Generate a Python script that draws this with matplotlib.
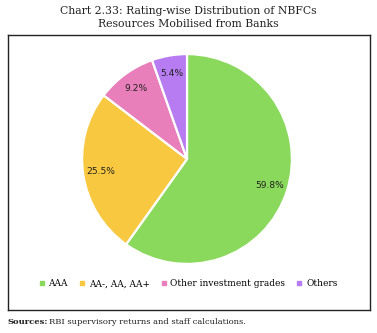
import matplotlib
matplotlib.use('Agg')
import matplotlib.pyplot as plt
from matplotlib.lines import Line2D

labels = ['AAA', 'AA-, AA, AA+', 'Other investment grades', 'Others']
shares = [59.8, 25.5, 9.2, 5.4]
colors = ['#8ad95c', '#f8c840', '#e97fba', '#b77cf1']

W, H = 377, 333
fig = plt.figure(figsize=(W / 100, H / 100), dpi=100)
fig.patch.set_facecolor('white')

def fx(px):
  return px / W

def fy(py):
  return 1 - py / H

# outer frame around chart area
frame = fig.add_axes([fx(8), fy(310), fx(370) - fx(8), fy(35) - fy(310)])
frame.set_xticks([])
frame.set_yticks([])
for s in frame.spines.values():
  s.set_linewidth(1.0)
  s.set_color('#222222')

fig.text(0.5, fy(11), 'Chart 2.33: Rating-wise Distribution of NBFCs',
         ha='center', va='center', family='DejaVu Serif', fontsize=7.8,
         color='#222222')
fig.text(0.5, fy(24), 'Resources Mobilised from Banks',
         ha='center', va='center', family='DejaVu Serif', fontsize=7.8,
         color='#222222')

# pie, percent labels taken straight from the shares
cx, cy, r = 187, 159, 107
ax = fig.add_axes([fx(cx - r), fy(cy + r), 2 * r / W, 2 * r / H])
pct_labels = ['%.1f%%' % v for v in shares]
wedges, texts = ax.pie(
  shares, colors=colors, startangle=90, counterclock=False,
  labels=pct_labels, labeldistance=0.83,
  wedgeprops=dict(edgecolor='white', linewidth=1.6),
  textprops=dict(fontsize=6.6, color='#222222', family='DejaVu Sans'))
for t in texts:
  t.set_ha('center')
  t.set_va('center')
ax.set_xlim(-1.02, 1.02)
ax.set_ylim(-1.02, 1.02)
ax.set_aspect('equal')

handles = [Line2D([], [], marker='s', linestyle='', markersize=2.5,
                  markerfacecolor=c, markeredgecolor=c) for c in colors]
fig.legend(handles, labels, loc='center', bbox_to_anchor=(0.5, fy(284)),
           ncol=4, frameon=False, handlelength=0.5, handletextpad=0.5,
           columnspacing=1.3, prop=dict(family='DejaVu Serif', size=6.5))

fig.text(fx(8), fy(322), 'Sources:', ha='left', va='center',
         family='DejaVu Serif', fontsize=6.0, fontweight='bold', color='#222222')
fig.text(fx(49), fy(322), 'RBI supervisory returns and staff calculations.',
         ha='left', va='center', family='DejaVu Serif', fontsize=6.0,
         color='#222222')

fig.savefig('out.png', dpi=100)
